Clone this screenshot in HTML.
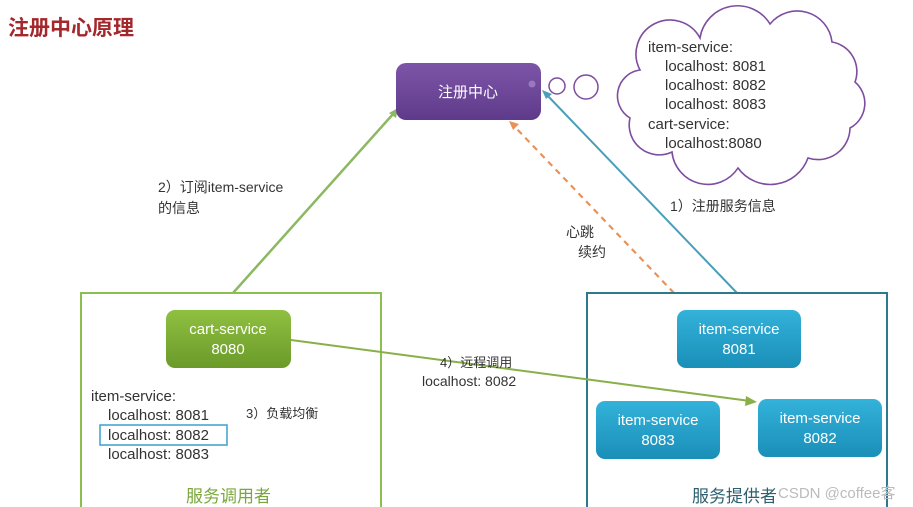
<!DOCTYPE html>
<html><head><meta charset="utf-8"><style>
html,body{margin:0;padding:0;background:#fff;}
svg{display:block;}
text{font-family:"Liberation Sans","Noto Sans CJK SC",sans-serif;}
</style></head><body>
<svg width="913" height="507" viewBox="0 0 913 507" xmlns="http://www.w3.org/2000/svg">
<defs>
<linearGradient id="pg" x1="0" y1="0" x2="0" y2="1"><stop offset="0" stop-color="#7d55a8"/><stop offset="1" stop-color="#5f3a8a"/></linearGradient>
<linearGradient id="gg" x1="0" y1="0" x2="0" y2="1"><stop offset="0" stop-color="#8fc040"/><stop offset="1" stop-color="#6b9a2a"/></linearGradient>
<linearGradient id="bg" x1="0" y1="0" x2="0" y2="1"><stop offset="0" stop-color="#33b2da"/><stop offset="1" stop-color="#1a8fb8"/></linearGradient>
</defs>
<text x="8" y="35" font-size="21" font-weight="bold" fill="#a3272b">注册中心原理</text>

<!-- cloud -->
<path d="M640 70 A32 32 0 0 1 700 38 A38 38 0 0 1 770 24 A35 35 0 0 1 832 42 A30 30 0 0 1 855 82 A28 28 0 0 1 850 128 A32 32 0 0 1 808 158 A40 40 0 0 1 738 168 A36 36 0 0 1 672 152 A30 30 0 0 1 630 118 A26 26 0 0 1 640 70 Z" fill="#fff" stroke="#7d4ea0" stroke-width="1.6"/>
<g font-size="15" fill="#333">
<text x="648" y="52">item-service:</text>
<text x="665" y="71">localhost: 8081</text>
<text x="665" y="90">localhost: 8082</text>
<text x="665" y="109">localhost: 8083</text>
<text x="648" y="129">cart-service:</text>
<text x="665" y="148">localhost:8080</text>
</g>
<circle cx="557" cy="86" r="8" fill="#fff" stroke="#7d4ea0" stroke-width="1.5"/>
<circle cx="586" cy="87" r="12" fill="#fff" stroke="#7d4ea0" stroke-width="1.5"/>

<!-- lines -->
<line x1="233" y1="293" x2="394" y2="113" stroke="#8bb860" stroke-width="2.5"/>
<polygon points="398,108 389,113 396,118" fill="#8bb860"/>
<line x1="737" y1="293" x2="546" y2="94" stroke="#4a9fb8" stroke-width="2"/>
<polygon points="542,90 552,94 546,99" fill="#4a9fb8"/>
<line x1="674" y1="293" x2="514" y2="126" stroke="#e8925a" stroke-width="2.2" stroke-dasharray="6,5"/>
<polygon points="509,121 519,124 513,130" fill="#e8925a"/>

<!-- registry -->
<rect x="396" y="63" width="145" height="57" rx="10" fill="url(#pg)"/>
<circle cx="532" cy="84" r="3.5" fill="#9a78c0"/>
<text x="468" y="97" font-size="15" fill="#fff" text-anchor="middle">注册中心</text>

<g font-size="14" fill="#333">
<text x="158" y="192">2）订阅item-service</text>
<text x="158" y="213">的信息</text>
<text x="670" y="211">1）注册服务信息</text>
<text x="566" y="237">心跳</text>
<text x="578" y="257">续约</text>
</g>

<!-- boxes -->
<rect x="81" y="293" width="300" height="220" fill="none" stroke="#8bc050" stroke-width="2"/>
<rect x="587" y="293" width="300" height="220" fill="none" stroke="#2c7a8c" stroke-width="2"/>

<rect x="166" y="310" width="125" height="58" rx="9" fill="url(#gg)"/>
<text x="228" y="334" font-size="15" fill="#fff" text-anchor="middle">cart-service</text>
<text x="228" y="354" font-size="15" fill="#fff" text-anchor="middle">8080</text>

<rect x="677" y="310" width="124" height="58" rx="9" fill="url(#bg)"/>
<text x="739" y="334" font-size="15" fill="#fff" text-anchor="middle">item-service</text>
<text x="739" y="354" font-size="15" fill="#fff" text-anchor="middle">8081</text>
<rect x="596" y="401" width="124" height="58" rx="9" fill="url(#bg)"/>
<text x="658" y="425" font-size="15" fill="#fff" text-anchor="middle">item-service</text>
<text x="658" y="445" font-size="15" fill="#fff" text-anchor="middle">8083</text>
<rect x="758" y="399" width="124" height="58" rx="9" fill="url(#bg)"/>
<text x="820" y="423" font-size="15" fill="#fff" text-anchor="middle">item-service</text>
<text x="820" y="443" font-size="15" fill="#fff" text-anchor="middle">8082</text>

<line x1="291" y1="340" x2="750" y2="401" stroke="#88b048" stroke-width="2"/>
<polygon points="757,402 746,396 745,406" fill="#88b048"/>

<g fill="#333">
<text x="440" y="367" font-size="13">4）远程调用</text>
<text x="422" y="386" font-size="14">localhost: 8082</text>
<text x="91" y="401" font-size="15">item-service:</text>
<text x="108" y="420" font-size="15">localhost: 8081</text>
<text x="108" y="440" font-size="15">localhost: 8082</text>
<text x="108" y="459" font-size="15">localhost: 8083</text>
<text x="246" y="418" font-size="13">3）负载均衡</text>
</g>
<rect x="100" y="425" width="127" height="20" fill="none" stroke="#3aa0d0" stroke-width="1.5"/>

<text x="186" y="502" font-size="17" fill="#7aa83c">服务调用者</text>
<text x="692" y="502" font-size="17" fill="#2c6070">服务提供者</text>
<text x="778" y="498" font-size="15" fill="#bbb">CSDN @coffee客</text>
</svg>
</body></html>
